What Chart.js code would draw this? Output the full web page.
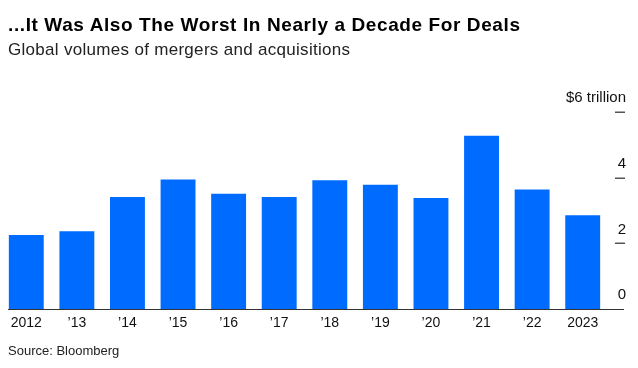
<!DOCTYPE html>
<html>
<head>
<meta charset="utf-8">
<script src="https://cdn.jsdelivr.net/npm/chart.js@4/dist/chart.umd.min.js"></script>
<style>
  html, body { margin: 0; padding: 0; background: #fff; }
  body { width: 638px; height: 368px; position: relative; overflow: hidden; font-family: "Liberation Sans", Arial, sans-serif; }
  #title { position: absolute; left: 8px; top: 14px; font-size: 19px; line-height: normal; font-weight: bold; color: #000; white-space: nowrap; letter-spacing: 0.6px; }
  #subtitle { position: absolute; left: 8px; top: 40px; font-size: 17px; line-height: normal; color: #222; white-space: nowrap; letter-spacing: 0.3px; }
  #source { position: absolute; left: 8px; top: 343px; font-size: 13px; line-height: normal; color: #222; white-space: nowrap; }
  #wrap { position: absolute; left: 0; top: 0; width: 638px; height: 368px; }
</style>
</head>
<body>
<div id="wrap"><canvas id="c" width="638" height="368"></canvas></div>
<div id="title">...It Was Also The Worst In Nearly a Decade For Deals</div>
<div id="subtitle">Global volumes of mergers and acquisitions</div>
<div id="source">Source: Bloomberg</div>
<script>
const categories = ['2012', '\u201913', '\u201914', '\u201915', '\u201916', '\u201917', '\u201918', '\u201919', '\u201920', '\u201921', '\u201922', '2023'];
const volumes = [2.26, 2.37, 3.41, 3.95, 3.51, 3.41, 3.92, 3.79, 3.38, 5.28, 3.64, 2.86];
const yTickValues = [0, 2, 4, 6];
const yTickLabels = ['0', '2', '4', '$6 trillion'];

const axisDecor = {
  id: 'axisDecor',
  afterDatasetsDraw(chart) {
    const ctx = chart.ctx;
    const y = chart.scales.y;
    ctx.save();
    ctx.strokeStyle = '#555';
    ctx.lineWidth = 1.5;
    y.ticks.forEach(t => {
      if (t.value === 0) return;
      const py = Math.round(y.getPixelForValue(t.value)) + 0.25;
      ctx.beginPath();
      ctx.moveTo(615, py);
      ctx.lineTo(625, py);
      ctx.stroke();
    });
    const by = Math.round(y.getPixelForValue(0)) + 0.5;
    ctx.strokeStyle = '#333';
    ctx.lineWidth = 1;
    ctx.beginPath();
    ctx.moveTo(8, by);
    ctx.lineTo(624, by);
    ctx.stroke();
    ctx.restore();
  }
};

new Chart(document.getElementById('c'), {
  type: 'bar',
  data: {
    labels: categories,
    datasets: [{
      data: volumes,
      backgroundColor: '#006bff',
      borderWidth: 0,
      barPercentage: 0.69,
      categoryPercentage: 1.0
    }]
  },
  options: {
    responsive: false,
    animation: false,
    devicePixelRatio: 1,
    layout: { padding: { top: 112, left: 1, right: 12, bottom: 30 } },
    plugins: { legend: { display: false }, tooltip: { enabled: false } },
    scales: {
      x: {
        grid: { display: false, drawTicks: false },
        border: { display: false },
        ticks: {
          color: '#111',
          font: { family: '"Liberation Sans", Arial, sans-serif', size: 14 },
          padding: 6,
          maxRotation: 0,
          autoSkip: false
        }
      },
      y: {
        position: 'right',
        min: 0,
        max: 6,
        afterBuildTicks(scale) { scale.ticks = yTickValues.map(v => ({ value: v })); },
        afterFit(scale) { scale.width = 18; },
        grid: { display: false, drawTicks: false },
        border: { display: false },
        ticks: {
          color: '#111',
          font: { family: '"Liberation Sans", Arial, sans-serif', size: 15 },
          mirror: true,
          crossAlign: 'near',
          labelOffset: -14,
          padding: 18,
          callback: (v) => yTickLabels[yTickValues.indexOf(v)]
        }
      }
    }
  },
  plugins: [axisDecor]
});
</script>
</body>
</html>
